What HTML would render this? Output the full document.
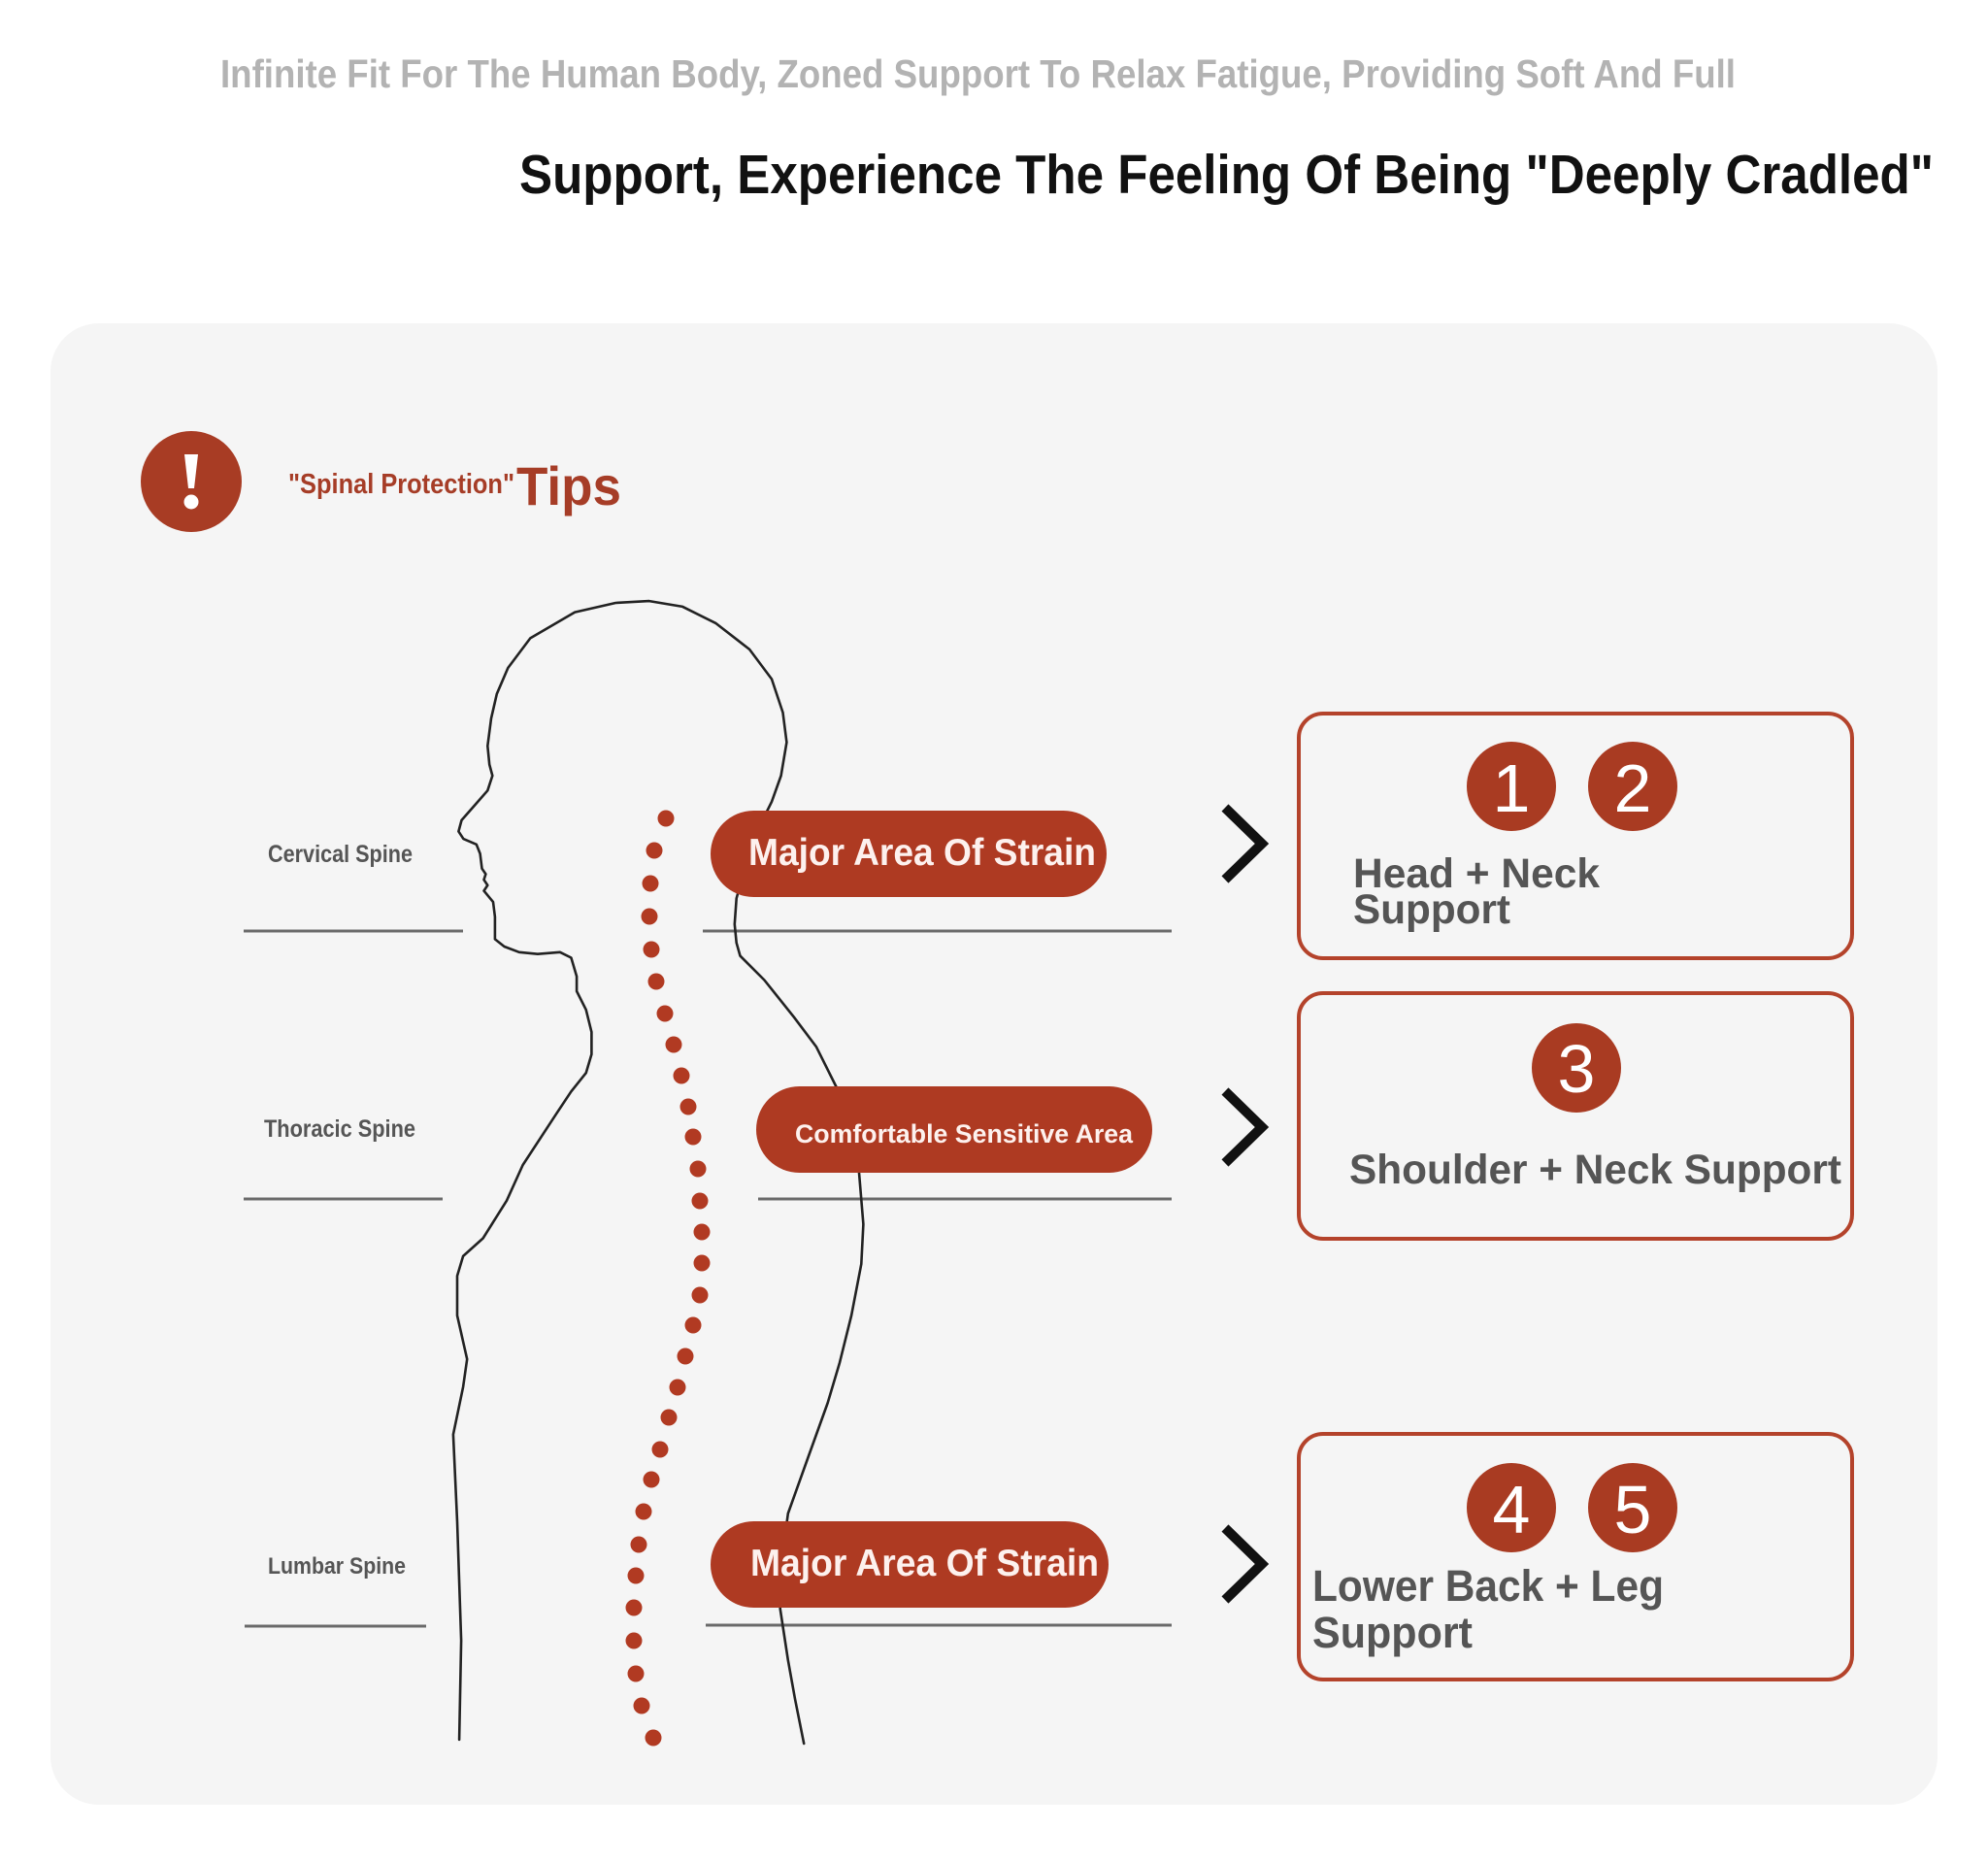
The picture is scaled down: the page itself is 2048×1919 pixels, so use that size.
<!DOCTYPE html>
<html>
<head>
<meta charset="utf-8">
<style>
html,body{margin:0;padding:0;background:#ffffff;}
body{width:2048px;height:1919px;overflow:hidden;}
svg{display:block;}
text{font-family:"Liberation Sans",Arial,sans-serif;}
</style>
</head>
<body>
<svg width="2048" height="1919" viewBox="0 0 2048 1919" xmlns="http://www.w3.org/2000/svg">
  <rect x="0" y="0" width="2048" height="1919" fill="#ffffff"/>

  <!-- Titles -->
  <text x="227" y="90" font-size="41" font-weight="700" fill="#b3b3b3" textLength="1561" lengthAdjust="spacingAndGlyphs">Infinite Fit For The Human Body, Zoned Support To Relax Fatigue, Providing Soft And Full</text>
  <text x="535" y="199" font-size="57" font-weight="700" fill="#111111" textLength="1457" lengthAdjust="spacingAndGlyphs">Support, Experience The Feeling Of Being "Deeply Cradled"</text>

  <!-- Card -->
  <rect x="52" y="333" width="1944" height="1526" rx="50" ry="50" fill="#f5f5f5"/>

  <!-- Header icon -->
  <circle cx="197" cy="496" r="52" fill="#a83c24"/>
  <polygon points="190,468 204,468 200,503 194,503" fill="#ffffff"/>
  <circle cx="197" cy="517" r="7.5" fill="#ffffff"/>
  <text x="297" y="508" font-size="29" font-weight="700" fill="#a63d27" textLength="233" lengthAdjust="spacingAndGlyphs">"Spinal Protection"</text>
  <text x="532" y="520" font-size="56" font-weight="700" fill="#a63d27" textLength="108" lengthAdjust="spacingAndGlyphs">Tips</text>

  <!-- Label lines -->
  <g stroke="#6a6a6a" stroke-width="3" fill="none">
    <line x1="251" y1="959" x2="477" y2="959"/>
    <line x1="724" y1="959" x2="1207" y2="959"/>
    <line x1="251" y1="1235" x2="456" y2="1235"/>
    <line x1="781" y1="1235" x2="1207" y2="1235"/>
    <line x1="252" y1="1675" x2="439" y2="1675"/>
    <line x1="727" y1="1674" x2="1207" y2="1674"/>
  </g>

  <!-- Spine labels -->
  <text x="276" y="888" font-size="25" font-weight="700" fill="#555555" textLength="149" lengthAdjust="spacingAndGlyphs">Cervical Spine</text>
  <text x="272" y="1171" font-size="25" font-weight="700" fill="#555555" textLength="156" lengthAdjust="spacingAndGlyphs">Thoracic Spine</text>
  <text x="276" y="1621" font-size="24" font-weight="700" fill="#555555" textLength="142" lengthAdjust="spacingAndGlyphs">Lumbar Spine</text>

  <!-- Body outline -->
  <path fill="none" stroke="#222222" stroke-width="2.6" stroke-linejoin="round" stroke-linecap="round"
    d="M828.2,1796 L819,1750 L811.8,1710 L803.7,1657 L805,1610 L811.8,1559 L832.2,1502 L852.7,1445 L864.9,1404 L877.1,1355 L887.3,1302 L889.4,1261 L885,1208 L875,1165 L862,1120.5 L841,1078.4 L818,1047.8 L787.4,1009.5 L762.5,984.6 L758.7,971.2 L756.8,952 L758.7,925.3 L770,885 L781,855 L789.3,837.3 L795,825.8 L804.6,799 L810.4,764.6 L806.5,734 L795,699.5 L772.1,668.9 L737.6,642.1 L703.2,624.9 L668.8,619.1 L634.3,621 L592.2,630.6 L546.3,657.4 L523.3,688 L511.8,714.8 L506,740 L502.3,768.4 L504.2,787.5 L507.3,799 L502.3,814.3 L488.9,829.6 L475.5,844.9 L472.4,856.4 L477.4,864.1 L490.8,869.8 L494.6,879.4 L496.5,894.7 L500.4,900.4 L498.5,906.2 L502.3,911.9 L498.5,917.6 L508,929.1 L509.9,944.4 L509.9,967.4 L519.5,975 L534.8,980.8 L553.9,982.7 L576.9,980.8 L588.4,986.5 L594.1,1005.7 L594.1,1021 L603.7,1040.1 L609.4,1063.1 L609.4,1086 L603.7,1105.2 L588.4,1124.3 L573.1,1147.3 L538.6,1200 L522,1236.7 L497.6,1275.5 L477.1,1293.9 L471,1314.3 L471,1355.1 L481.2,1400 L477.1,1428.6 L466.9,1477.6 L471,1567.3 L475.1,1689.8 L473.1,1791.8"/>

  <!-- Spine dots -->
  <g fill="#b13a22">
    <circle cx="686" cy="843" r="8.5"/>
    <circle cx="674" cy="876" r="8.5"/>
    <circle cx="670" cy="910" r="8.5"/>
    <circle cx="669" cy="944" r="8.5"/>
    <circle cx="671" cy="978" r="8.5"/>
    <circle cx="676" cy="1011" r="8.5"/>
    <circle cx="685" cy="1044" r="8.5"/>
    <circle cx="694" cy="1076" r="8.5"/>
    <circle cx="702" cy="1108" r="8.5"/>
    <circle cx="709" cy="1140" r="8.5"/>
    <circle cx="714" cy="1171" r="8.5"/>
    <circle cx="719" cy="1204" r="8.5"/>
    <circle cx="721" cy="1237" r="8.5"/>
    <circle cx="723" cy="1269" r="8.5"/>
    <circle cx="723" cy="1301" r="8.5"/>
    <circle cx="721" cy="1334" r="8.5"/>
    <circle cx="714" cy="1365" r="8.5"/>
    <circle cx="706" cy="1397" r="8.5"/>
    <circle cx="698" cy="1429" r="8.5"/>
    <circle cx="689" cy="1460" r="8.5"/>
    <circle cx="680" cy="1493" r="8.5"/>
    <circle cx="671" cy="1524" r="8.5"/>
    <circle cx="663" cy="1557" r="8.5"/>
    <circle cx="658" cy="1591" r="8.5"/>
    <circle cx="655" cy="1623" r="8.5"/>
    <circle cx="653" cy="1656" r="8.5"/>
    <circle cx="653" cy="1690" r="8.5"/>
    <circle cx="655" cy="1724" r="8.5"/>
    <circle cx="661" cy="1757" r="8.5"/>
    <circle cx="673" cy="1790" r="8.5"/>
  </g>

  <!-- Pills -->
  <rect x="732" y="835" width="408" height="89" rx="44.5" ry="44.5" fill="#ae3a22"/>
  <text x="771" y="891" font-size="39" font-weight="700" fill="#fdf1ee" textLength="358" lengthAdjust="spacingAndGlyphs">Major Area Of Strain</text>

  <rect x="779" y="1119" width="408" height="89" rx="44.5" ry="44.5" fill="#ae3a22"/>
  <text x="819" y="1177" font-size="27" font-weight="700" fill="#fdf1ee" textLength="348" lengthAdjust="spacingAndGlyphs">Comfortable Sensitive Area</text>

  <rect x="732" y="1567" width="410" height="89" rx="44.5" ry="44.5" fill="#ae3a22"/>
  <text x="773" y="1623" font-size="39" font-weight="700" fill="#fdf1ee" textLength="359" lengthAdjust="spacingAndGlyphs">Major Area Of Strain</text>

  <!-- Chevrons -->
  <g fill="none" stroke="#111111" stroke-width="10" stroke-linejoin="miter" stroke-linecap="butt">
    <polyline points="1262,832 1300,869 1262,906"/>
    <polyline points="1262,1124 1300,1161 1262,1198"/>
    <polyline points="1262,1574 1300,1611 1262,1648"/>
  </g>

  <!-- Boxes -->
  <g fill="none" stroke="#b4432b" stroke-width="4">
    <rect x="1338" y="735" width="570" height="252" rx="25" ry="25"/>
    <rect x="1338" y="1023" width="570" height="253" rx="25" ry="25"/>
    <rect x="1338" y="1477" width="570" height="253" rx="25" ry="25"/>
  </g>

  <!-- Number circles -->
  <g fill="#a93b22">
    <circle cx="1557" cy="810" r="46"/>
    <circle cx="1682" cy="810" r="46"/>
    <circle cx="1624" cy="1100" r="46"/>
    <circle cx="1557" cy="1553" r="46"/>
    <circle cx="1682" cy="1553" r="46"/>
  </g>
  <g fill="#ffffff" font-size="70" text-anchor="middle">
    <text x="1557" y="836">1</text>
    <text x="1682" y="836">2</text>
    <text x="1624" y="1125">3</text>
    <text x="1557" y="1579">4</text>
    <text x="1682" y="1579">5</text>
  </g>

  <!-- Box texts -->
  <g fill="#555555" font-weight="700">
    <text x="1394" y="914" font-size="43" textLength="254" lengthAdjust="spacingAndGlyphs">Head + Neck</text>
    <text x="1394" y="951" font-size="43" textLength="162" lengthAdjust="spacingAndGlyphs">Support</text>
    <text x="1390" y="1219" font-size="43" textLength="507" lengthAdjust="spacingAndGlyphs">Shoulder + Neck Support</text>
    <text x="1352" y="1649" font-size="45" textLength="362" lengthAdjust="spacingAndGlyphs">Lower Back + Leg</text>
    <text x="1352" y="1697" font-size="45" textLength="165" lengthAdjust="spacingAndGlyphs">Support</text>
  </g>
</svg>
</body>
</html>
